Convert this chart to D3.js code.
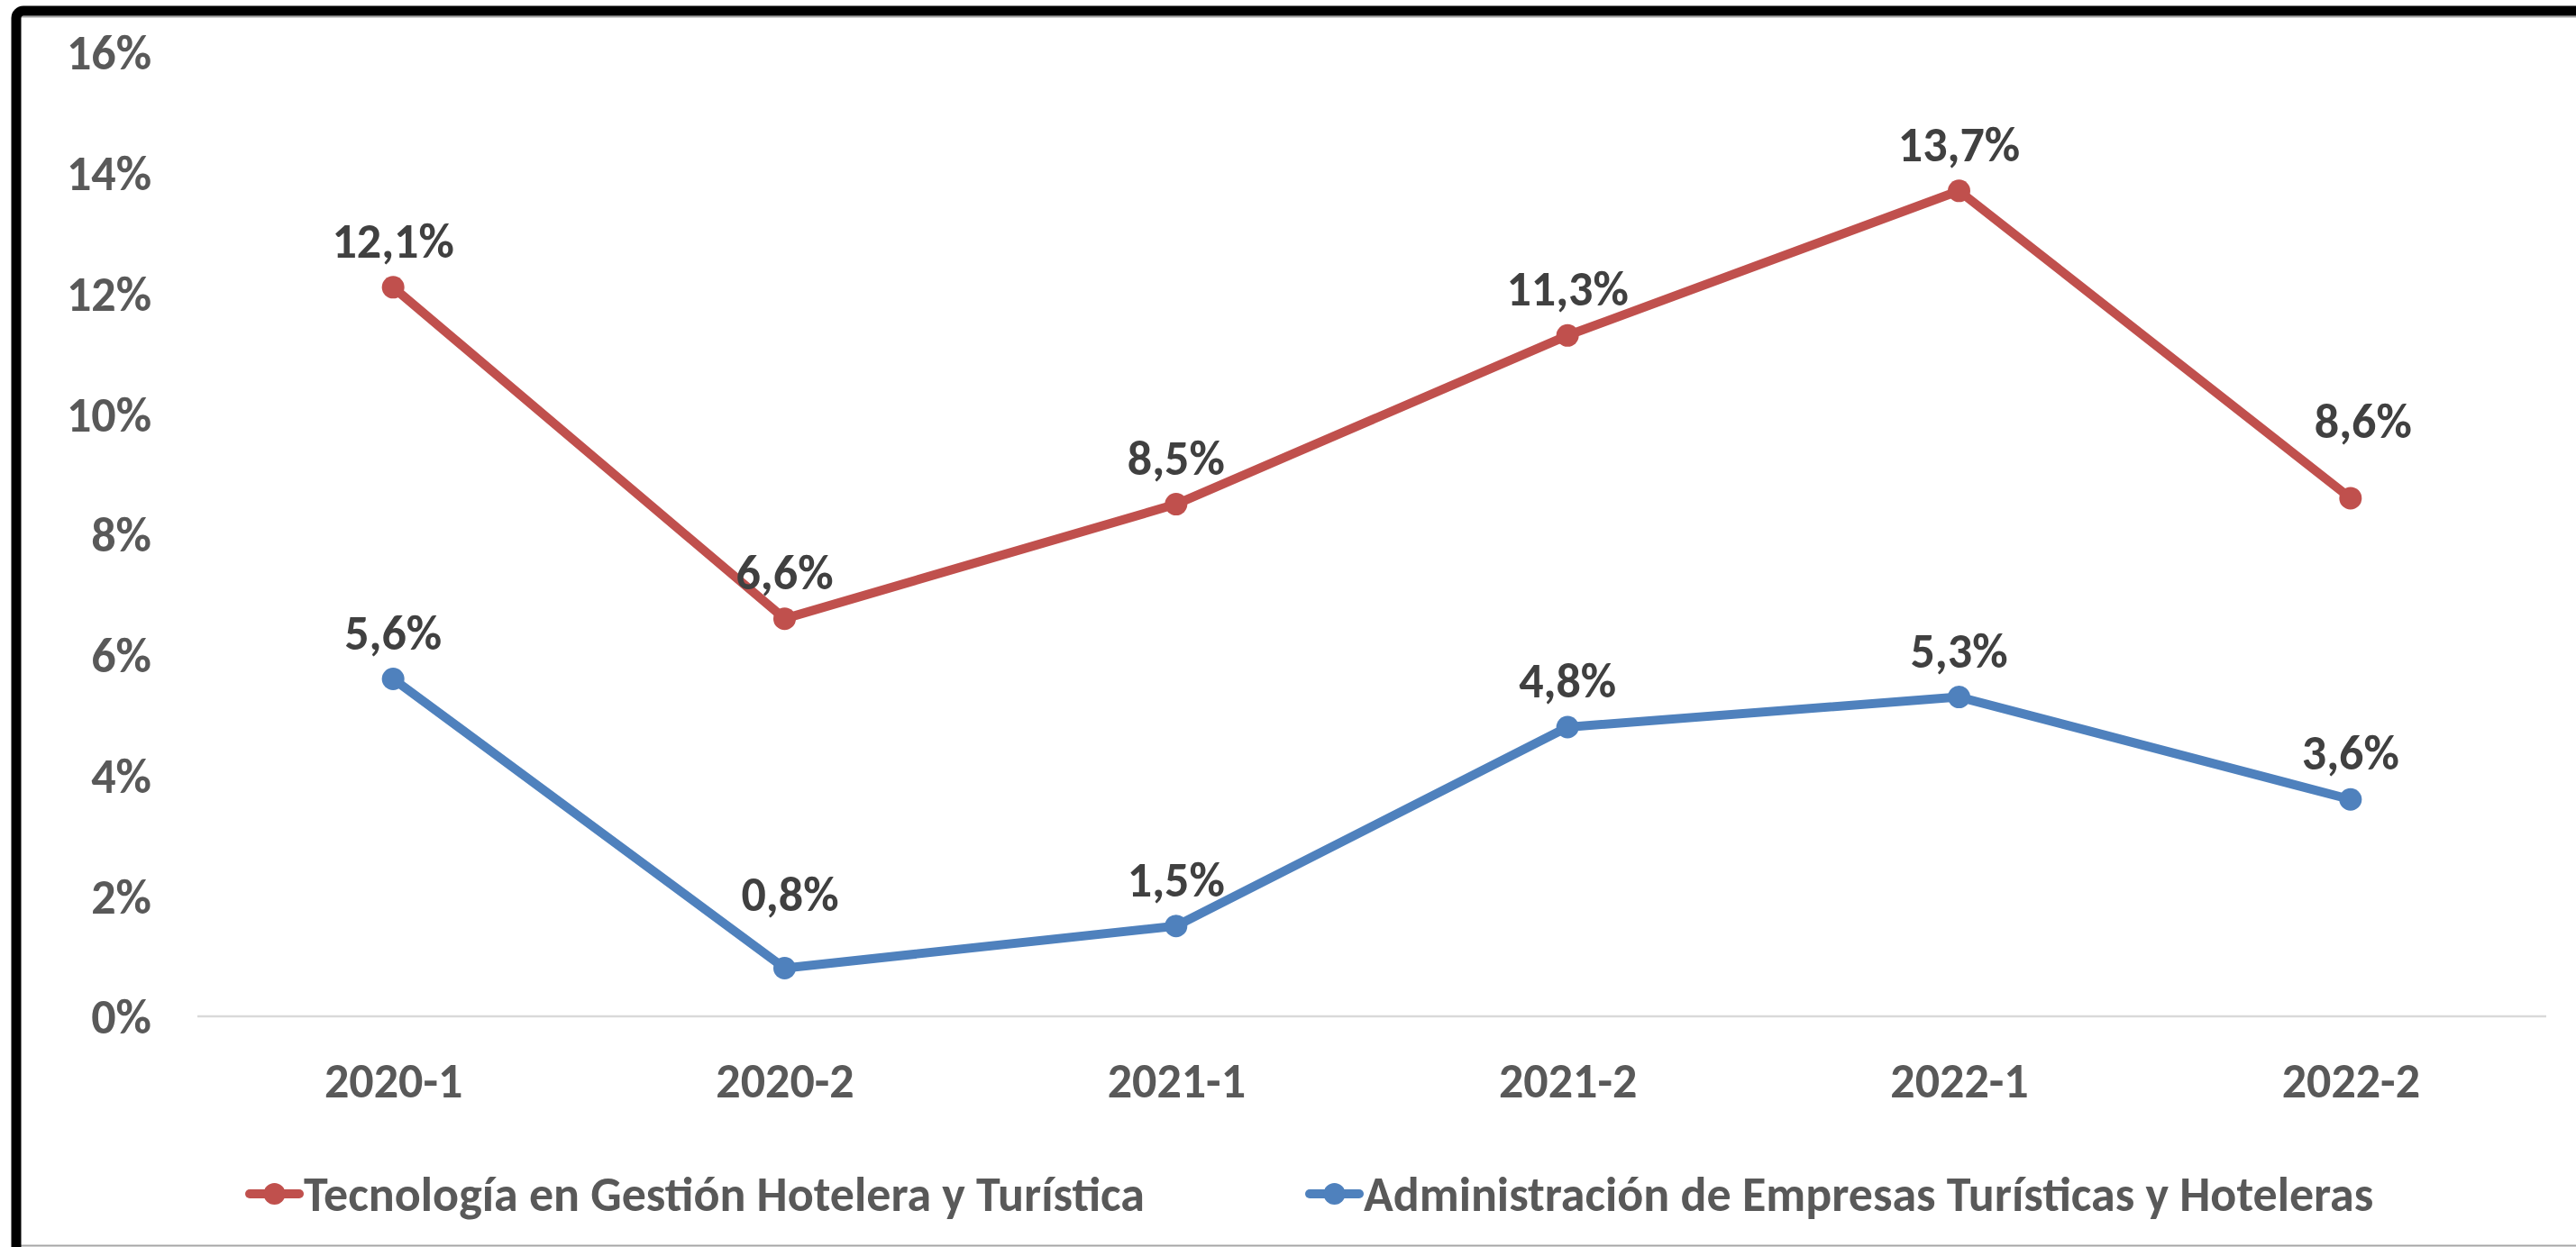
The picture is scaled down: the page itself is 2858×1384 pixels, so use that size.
<!DOCTYPE html>
<html>
<head>
<meta charset="utf-8">
<script src="https://cdn.jsdelivr.net/npm/d3@7"></script>
<style>
  body { margin: 0; background: #fff; }
  text { font-family: Calibri, Carlito, Lato, sans-serif; font-weight: bold; }
</style>
</head>
<body>
<div id="chart"></div>
<script>
const periods = ["2020-1", "2020-2", "2021-1", "2021-2", "2022-1", "2022-2"];
const tecnologia = [12.1, 6.6, 8.5, 11.3, 13.7, 8.6];
const administracion = [5.6, 0.8, 1.5, 4.8, 5.3, 3.6];
const yTicks = [0, 2, 4, 6, 8, 10, 12, 14, 16];

// a couple of data labels were dragged higher in the original
const labelNudge = { "Tecnología en Gestión Hotelera y Turística|2022-2": [14, 34],
                     "Administración de Empresas Turísticas y Hoteleras|2020-2": [6, 31] };

const series = [
  { name: "Tecnología en Gestión Hotelera y Turística", values: tecnologia, color: "#C0504D" },
  { name: "Administración de Empresas Turísticas y Hoteleras", values: administracion, color: "#4F81BD" },
];

const W = 2858, H = 1384;
const fontSize = 54;

const svg = d3.select("#chart")
  .append("svg")
  .attr("width", W)
  .attr("height", H);

// frame: thin grey chart border + thick black outline top/left
svg.append("rect")
  .attr("x", 22).attr("y", 18.5)
  .attr("width", W + 20).attr("height", H - 20)
  .attr("fill", "none")
  .attr("stroke", "#a6a6a6")
  .attr("stroke-width", 2);

svg.append("rect")
  .attr("x", 18).attr("y", 12)
  .attr("width", W + 40).attr("height", H + 40)
  .attr("rx", 8)
  .attr("fill", "none")
  .attr("stroke", "#000")
  .attr("stroke-width", 11);

const x = d3.scalePoint().domain(periods).range([219, 2825]).padding(0.5);
const y = d3.scaleLinear().domain([0, 16]).range([1128, 58]);

const locale = d3.formatLocale({ decimal: ",", thousands: ".", grouping: [3], currency: ["", ""] });
const fmt = locale.format(".1f");

// y axis labels
const yAxis = d3.axisLeft(y)
  .tickValues(yTicks)
  .tickSize(0)
  .tickPadding(0)
  .tickFormat((d) => d + "%");

svg.append("g")
  .attr("transform", "translate(168,0)")
  .call(yAxis)
  .call((g) => g.select(".domain").remove())
  .call((g) => g.selectAll("text")
    .attr("fill", "#595959")
    .style("font-size", fontSize + "px")
    .attr("dy", "0.35em"));

// baseline
svg.append("line")
  .attr("x1", 219).attr("x2", 2825)
  .attr("y1", y(0)).attr("y2", y(0))
  .attr("stroke", "#d9d9d9")
  .attr("stroke-width", 2.5);

// x axis labels
const xAxis = d3.axisBottom(x).tickSize(0).tickPadding(0);
svg.append("g")
  .attr("transform", "translate(0,1199)")
  .call(xAxis)
  .call((g) => g.select(".domain").remove())
  .call((g) => g.selectAll("text")
    .attr("fill", "#595959")
    .attr("dy", "0.35em")
    .style("font-size", fontSize + "px"));

const line = d3.line()
  .x((d, i) => x(periods[i]))
  .y((d) => y(d));

series.forEach((s) => {
  const g = svg.append("g");
  const nudge = (i) => labelNudge[s.name + "|" + periods[i]] || [0, 0];

  g.append("path")
    .datum(s.values)
    .attr("d", line)
    .attr("fill", "none")
    .attr("stroke", s.color)
    .attr("stroke-width", 10)
    .attr("stroke-linejoin", "round");

  g.selectAll("circle")
    .data(s.values)
    .join("circle")
    .attr("cx", (d, i) => x(periods[i]))
    .attr("cy", (d) => y(d))
    .attr("r", 12.5)
    .attr("fill", s.color);

  g.selectAll("text")
    .data(s.values)
    .join("text")
    .attr("x", (d, i) => x(periods[i]) + nudge(i)[0])
    .attr("y", (d, i) => y(d) - 33 - nudge(i)[1])
    .attr("text-anchor", "middle")
    .attr("fill", "#404040")
    .style("font-size", fontSize + "px")
    .text((d) => fmt(d) + "%");
});

// legend
const legendX = [277, 1453];
const legend = svg.append("g").attr("transform", "translate(0,1325)");
series.forEach((s, i) => {
  const lg = legend.append("g").attr("transform", `translate(${legendX[i]},0)`);
  lg.append("line")
    .attr("x1", 0).attr("x2", 55)
    .attr("stroke", s.color)
    .attr("stroke-width", 10)
    .attr("stroke-linecap", "round");
  lg.append("circle")
    .attr("cx", 27.5)
    .attr("r", 12)
    .attr("fill", s.color);
  lg.append("text")
    .attr("x", 60)
    .attr("dy", "0.35em")
    .attr("fill", "#595959")
    .style("font-size", fontSize + "px")
    .text(s.name);
});
</script>
</body>
</html>
